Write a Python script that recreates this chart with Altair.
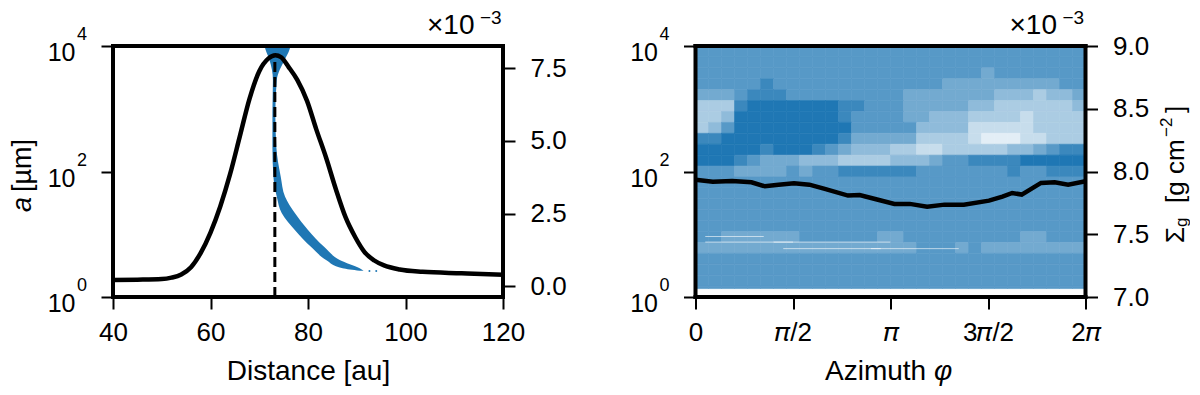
import altair as alt

FONT = "Liberation Sans"
BLUE = "#1f77b4"
W, H = 390, 251

# left panel
dist = [40, 45, 50, 52, 54, 56, 58, 60, 62, 64, 66, 68, 70, 71.9, 73.3, 74.5, 76, 77.8, 79.8, 81.7, 83.7, 85.7, 87.7, 89.7, 91.6, 93.6, 95.6, 98.8, 103.5, 111.5, 120]
sigma_left = [0.22, 0.23, 0.25, 0.30, 0.41, 0.66, 1.15, 1.85, 2.75, 3.85, 5.15, 6.45, 7.40, 7.84, 7.95, 7.88, 7.55, 7.10, 6.38, 5.40, 4.43, 3.35, 2.38, 1.69, 1.18, 0.89, 0.72, 0.58, 0.50, 0.45, 0.40]
band_a = [10000, 8700, 6000, 4170, 2880, 850, 248, 83, 39.6, 21.8, 11.7, 6.3, 3.9, 2.87, 2.62]
band_lo = [71.1, 71.3, 72.1, 72.6, 72.8, 72.7, 72.7, 72.9, 73.6, 74.6, 77.3, 80.6, 83.7, 87.1, 90.6]
band_hi = [76.4, 76.2, 75.2, 74.2, 73.6, 73.3, 73.5, 74.4, 75.3, 77.3, 80.0, 83.3, 86.5, 90.6, 91.4]
dot_x = [92.6, 94.0]
dot_a = [2.6, 2.6]
peak_x = [73.2]

# right panel
phi = [0, .089, .188, .287, .356, .426, .505, .584, .663, .782, .842, .921, 1.02, 1.099, 1.188, 1.277, 1.376, 1.505, 1.574, 1.624, 1.673, 1.772, 1.842, 1.911, 2]
sigma_right = [7.935, 7.919, 7.925, 7.914, 7.882, 7.895, 7.906, 7.895, 7.861, 7.808, 7.813, 7.781, 7.742, 7.742, 7.72, 7.736, 7.736, 7.768, 7.8, 7.829, 7.816, 7.909, 7.914, 7.895, 7.922]
# density of the particle cloud, top to bottom, left to right (0 empty .. 9 solid)
density = [
    "666666666666666666666666666666",
    "666666666666666666666666666666",
    "666666666666666666666656666666",
    "666667666666666666655555555566",
    "555677766666666655555554443445",
    "333788888887766655555443333334",
    "334898989987666655444333323333",
    "346999999988666664444222223333",
    "778999989987555553333211122333",
    "999987888765444332233333445677",
    "888765554443333444566777788888",
    "666555565667777776666666766777",
    "666666666666666666666666666666",
    "666666666666666666666666666666",
    "666666666666666666666666666666",
    "666666666666666666666666666666",
    "666666666666666666666666666666",
    "665555556666665566666666655666",
    "555555555555555556665655555555",
    "666666666666666666666666666666",
    "666666666666666666666666666666",
    "666666666666666666666666666666",
    "666666666666666666666666666666",
]
streak_lo = [0.05, 0.4, 0.45, 0.9, 0.05]
streak_hi = [0.5, 1.0, 0.95, 1.35, 0.35]
streak_a = [7.5, 7.5, 5.9, 5.9, 9.2]


def txt(s, x, y, size=26, **kw):
    kw.setdefault("baseline", "middle")
    kw.setdefault("align", "left")
    return alt.Chart(alt.Data(values=[{"t": s}])).mark_text(
        font=FONT, fontSize=size, color="black", clip=False, **kw
    ).encode(x=alt.value(x), y=alt.value(y), text="t:N")


def spines():
    sp = []
    rows = [
        {"x": 0, "x2": W, "y": 0, "y2": 0},
        {"x": 0, "x2": W, "y": H, "y2": H},
        {"x": 0, "x2": 0, "y": 0, "y2": H},
        {"x": W, "x2": W, "y": 0, "y2": H},
    ]
    for r in rows:
        sp.append(alt.Chart(alt.Data(values=[{"k": 1}])).mark_rule(color="black", strokeWidth=4, strokeCap="square").encode(
            x=alt.value(r["x"]), x2=alt.value(r["x2"]), y=alt.value(r["y"]), y2=alt.value(r["y2"])))
    return sp


def a_axis():
    return alt.Axis(values=[1, 100, 10000], labelExpr="'10'", title=None, orient="left", domain=False, grid=False,
                    tickSize=12, tickWidth=2, tickColor="black", labelFont=FONT, labelFontSize=25, labelColor="black",
                    labelPadding=26, labelBaseline="middle", labelOffset=6.5, labelOverlap=False, labelFlush=False)


def exponents():
    return [txt(e, -36, y, size=18) for e, y in [("4", -11), ("2", 114.5), ("0", 240)]]


def multiplier():
    return [txt("×10", 314, -20, size=28), txt("−3", 367, -28, size=19)]


def right_y_axis(values):
    return alt.Axis(values=values, format=".1f", orient="right", title=None, domain=False, grid=False, tickSize=12,
                    tickWidth=2, tickColor="black", labelFont=FONT, labelFontSize=26, labelColor="black", labelPadding=15)


a_scale = alt.Scale(type="log", domain=[1, 10000], nice=False)

# ---------- left ----------
x_l = alt.Scale(domain=[40, 120], nice=False, zero=False)
x_axis_l = alt.Axis(values=[40, 60, 80, 100, 120], title=None, domain=False, grid=False, tickSize=12, tickWidth=2,
                    tickColor="black", labelFont=FONT, labelFontSize=26, labelColor="black", labelPadding=10,
                    labelFlush=False, format="d")

band = alt.Chart(alt.Data(values=[{"a": a, "lo": l, "hi": h} for a, l, h in zip(band_a, band_lo, band_hi)])).mark_area(
    color=BLUE, orient="horizontal", interpolate="monotone"
).encode(x=alt.X("lo:Q", scale=x_l, axis=x_axis_l), x2="hi:Q", y=alt.Y("a:Q", scale=a_scale, axis=a_axis()))
dots = alt.Chart(alt.Data(values=[{"d": d, "a": a} for d, a in zip(dot_x, dot_a)])).mark_point(
    filled=True, color=BLUE, size=4, opacity=1
).encode(x=alt.X("d:Q", scale=x_l), y=alt.Y("a:Q", scale=a_scale))
dash = alt.Chart(alt.Data(values=[{"p": peak_x[0], "a0": 1, "a1": 6500}])).mark_rule(
    color="black", strokeWidth=3, strokeDash=[10, 5]
).encode(x=alt.X("p:Q", scale=x_l), y=alt.Y("a0:Q", scale=a_scale), y2="a1:Q")
left_a = alt.layer(band, dots, dash)

curve_l = alt.Chart(alt.Data(values=[{"d": d, "s": s} for d, s in zip(dist, sigma_left)])).mark_line(
    color="black", strokeWidth=4.5, interpolate="monotone"
).encode(
    x=alt.X("d:Q", scale=x_l),
    y=alt.Y("s:Q", scale=alt.Scale(domain=[-0.365, 8.266], nice=False, zero=False),
            axis=right_y_axis([0, 2.5, 5, 7.5])),
)

left = alt.layer(
    left_a, curve_l, *spines(), *exponents(), *multiplier(),
    txt("Distance [au]", 195.5, 326, size=28, align="center"),
    txt("a", -82.5, 166, size=27, angle=270, baseline="alphabetic", fontStyle="italic"),
    txt("[µm]", -82.5, 146, size=27, angle=270, baseline="alphabetic"),
).resolve_scale(y="independent").properties(width=W, height=H)

# ---------- right ----------
x_r = alt.Scale(domain=[0, 2], nice=False, zero=False)
x_axis_r = alt.Axis(values=[0, .5, 1, 1.5, 2], title=None, domain=False, grid=False, tickSize=12, tickWidth=2,
                    tickColor="black", labelFont=FONT, labelFontSize=26, labelColor="black", labelPadding=10, labelFlush=False,
                    labelExpr="datum.value==0?'0':datum.value==0.5?'𝜋/2':datum.value==1?'𝜋':datum.value==1.5?'3𝜋/2':'2𝜋'")

cells = []
n_rows, n_cols = len(density), len(density[0])
for i, row in enumerate(density):
    for j, ch in enumerate(row):
        cells.append({
            "p0": 2 * j / n_cols, "p1": 2 * (j + 1) / n_cols,
            "a1": 10 ** (4 - 4 * i / n_rows), "a0": max(1.36, 10 ** (4 - 4 * (i + 1) / n_rows)),
            "o": int(ch) / 8,
        })
ramp = alt.Scale(domain=[0, 1], range=["white", BLUE], interpolate="rgb", clamp=True)
cloud = alt.Chart(alt.Data(values=cells)).mark_rect(strokeWidth=0.6).encode(
    x=alt.X("p0:Q", scale=x_r, axis=x_axis_r), x2="p1:Q",
    y=alt.Y("a0:Q", scale=a_scale, axis=a_axis()), y2="a1:Q",
    fill=alt.Fill("o:Q", scale=ramp, legend=None),
    stroke=alt.Stroke("o:Q", scale=ramp, legend=None),
)
streaks = alt.Chart(alt.Data(values=[{"l": l, "h": h, "a": a} for l, h, a in zip(streak_lo, streak_hi, streak_a)])).mark_rule(
    color="white", strokeWidth=1, opacity=0.6
).encode(x=alt.X("l:Q", scale=x_r), x2="h:Q", y=alt.Y("a:Q", scale=a_scale))
right_a = alt.layer(cloud, streaks)

curve_r = alt.Chart(alt.Data(values=[{"p": p, "s": s} for p, s in zip(phi, sigma_right)])).mark_line(
    color="black", strokeWidth=4.5
).encode(
    x=alt.X("p:Q", scale=x_r),
    y=alt.Y("s:Q", scale=alt.Scale(domain=[7, 9], nice=False, zero=False),
            axis=right_y_axis([7, 7.5, 8, 8.5, 9])),
)

right = alt.layer(
    right_a, curve_r, *spines(), *exponents(), *multiplier(),
    txt("Azimuth", 129.5, 326, size=28),
    txt("φ", 238.5, 326, size=28, fontStyle="italic"),
    txt("Σ", 488, 197, angle=270, baseline="alphabetic"),
    txt("g", 491, 181, size=17, angle=270, baseline="alphabetic"),
    txt("[g cm", 488, 157, angle=270, baseline="alphabetic"),
    txt("−2", 476, 91, size=17, angle=270, baseline="alphabetic"),
    txt("]", 488, 67, angle=270, baseline="alphabetic"),
).resolve_scale(y="independent").properties(width=W, height=H)

chart = alt.hconcat(left, right, spacing=61.5).configure_view(stroke=None).configure(background="white").properties(padding=0)
chart.save("out.html", embed_options={"renderer": "svg", "actions": False})
